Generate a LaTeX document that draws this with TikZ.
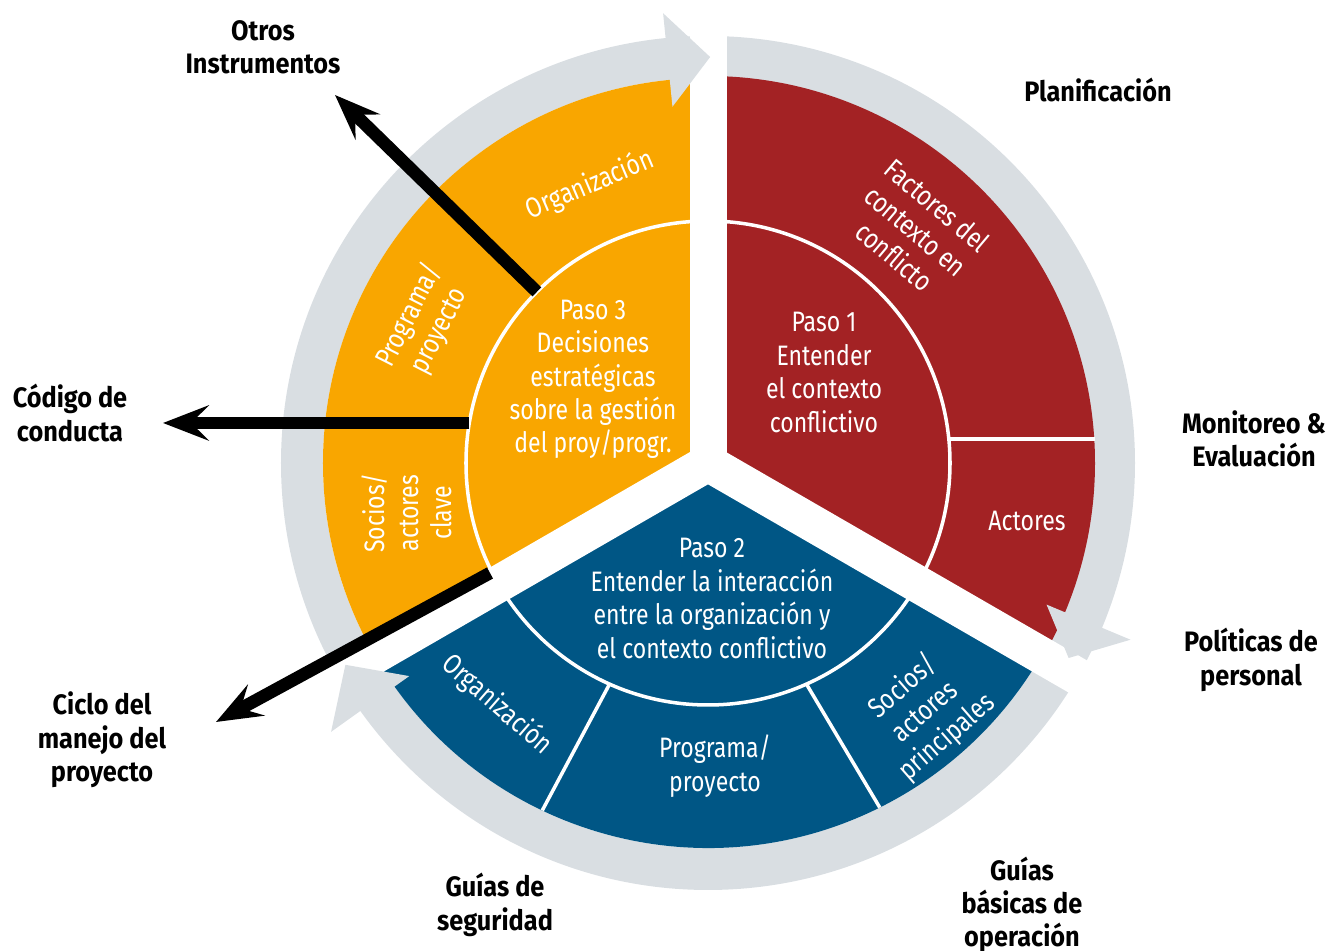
\documentclass[tikz,border=0pt]{standalone}
\usepackage{fontspec}
\setmainfont{Fira Sans}[FakeStretch=0.82,BoldFeatures={FakeStretch=0.9}]
\usetikzlibrary{arrows.meta}

\definecolor{rojo}{RGB}{163,34,36}
\definecolor{naranja}{RGB}{249,166,0}
\definecolor{azul}{RGB}{0,86,133}
\definecolor{gris}{RGB}{217,222,226}

\begin{document}
\begin{tikzpicture}[>={Stealth[length=13pt,width=10pt,inset=5pt]},
                    campo/.style={text=white,align=center,font=\fontsize{8}{9.5}\selectfont},
                    etiqueta/.style={align=center,font=\bfseries\fontsize{8}{9.5}\selectfont},
                    flecha/.style={->,line width=3.6pt},
                    corte/.style={white,line width=0.37cm},
                    linea/.style={white,line width=1pt}]

  \useasboundingbox (-7.08,-4.88) rectangle (6.20,4.63);

  % anillo gris
  \draw[gris,line width=0.42cm] (0,0) circle (4.06);

  \fill[rojo] (0,0) -- (90:3.87) arc (90:-30:3.87) -- cycle;
  \fill[naranja] (0,0) -- (90:3.85) arc (90:210:3.85) -- cycle;
  \fill[azul] (0,0) -- (210:3.85) arc (210:330:3.85) -- cycle;

  \foreach \a in {90,210,330}
    \draw[corte] (0,0) -- (\a:4.75);

  % puntas grises
  \fill[gris] (95.7:3.58) -- (89.7:4.06) -- (95.7:4.52) -- cycle;
  \fill[gris] (-22.7:3.67) -- (-28.4:4.10) -- (-22.7:4.58) -- cycle;
  \fill[gris] (215.5:3.67) -- (209.1:4.15) -- (215.5:4.63) -- cycle;

  \draw[linea] (0,0) circle (2.42);
  \draw[linea] (2.41,0.24) -- (3.87,0.24);
  \draw[linea] (246:2.42) -- (244.5:3.85);
  \draw[linea] (294:2.42) -- (296.5:3.85);

  \coordinate (s1) at (135:2.42);
  \coordinate (t1) at (-3.73,3.68);
  \coordinate (s2) at (-2.387,0.40);
  \coordinate (t2) at (-5.45,0.40);
  \coordinate (s3) at (-2.18,-1.10);
  \coordinate (t3) at (-4.92,-2.59);
  \draw[flecha] (s1) -- (t1);
  \draw[flecha] (s2) -- (t2);
  \draw[flecha] (s3) -- (t3);

  \node[campo] (paso1) at (1.16,0.905) {Paso 1\\Entender\\el contexto\\conflictivo};
  \node[campo] (paso3) at (-1.15,0.835) {Paso 3\\Decisiones\\estratégicas\\sobre la gestión\\del proy/progr.};
  \node[campo] (paso2) at (0.04,-1.355) {Paso 2\\Entender la interacción\\entre la organización y\\el contexto conflictivo};

  \node[campo,rotate=-40] (factores) at (2.08,2.32) {Factores del\\contexto en\\conflicto};
  \node[campo] (actores) at (3.19,-0.58) {Actores};
  \node[campo,rotate=23] (org3) at (-1.18,2.78) {Organización};
  \node[campo,rotate=63] (prog3) at (-2.84,1.40) {Programa/\\proyecto};
  \node[campo,rotate=90] (socios3) at (-3.01,-0.50) {Socios/\\actores\\clave};
  \node[campo,rotate=-41] (org2) at (-2.11,-2.42) {Organización};
  \node[campo] (prog2) at (0.07,-3.03) {Programa/\\proyecto};
  \node[campo,rotate=41] (socios2) at (2.17,-2.49) {Socios/\\actores\\principales};

  \node[etiqueta] (otros) at (-4.45,4.16) {Otros\\Instrumentos};
  \node[etiqueta] (planif) at (3.90,3.73) {Planificación};
  \node[etiqueta] (monitoreo) at (5.46,0.24) {Monitoreo \&\\Evaluación};
  \node[etiqueta] (politicas) at (5.43,-1.97) {Políticas de\\personal};
  \node[etiqueta] (basicas) at (3.14,-4.42) {Guías\\básicas de\\operación};
  \node[etiqueta] (seguridad) at (-2.13,-4.42) {Guías de\\seguridad};
  \node[etiqueta] (ciclo) at (-6.06,-2.77) {Ciclo del\\manejo del\\proyecto};
  \node[etiqueta] (codigo) at (-6.38,0.50) {Código de\\conducta};
\end{tikzpicture}
\end{document}
